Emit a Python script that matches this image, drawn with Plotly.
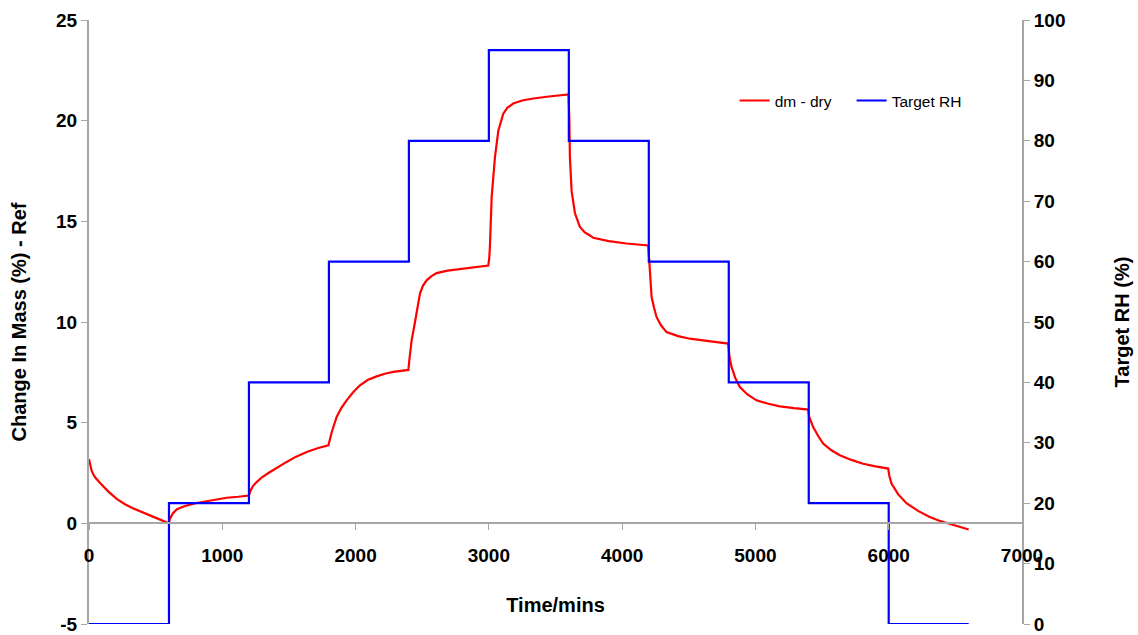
import plotly.graph_objects as go

# Change in mass (dm - dry)
mass_time = [0, 10, 20, 35, 50, 83, 150, 210, 270, 333, 400, 458, 530, 600,
             605, 615, 630, 660, 720, 808, 920, 1033, 1120, 1200,
             1210, 1230, 1258, 1300, 1358, 1420, 1483, 1550, 1633, 1720, 1796,
             1805, 1820, 1858, 1895, 1933, 1980, 2033, 2090, 2158, 2220, 2283, 2396,
             2405, 2421, 2446, 2465, 2483, 2505, 2533, 2570, 2608, 2690, 2783, 2880, 2996,
             3003, 3008, 3021, 3046, 3071, 3090, 3108, 3140, 3183, 3250, 3333, 3450, 3583, 3598,
             3604, 3608, 3621, 3646, 3683, 3720, 3758, 3783, 3900, 4033, 4196,
             4203, 4221, 4240, 4258, 4290, 4333, 4420, 4508, 4650, 4796,
             4805, 4821, 4850, 4883, 4940, 5008, 5090, 5183, 5290, 5396,
             5403, 5433, 5470, 5508, 5570, 5633, 5720, 5808, 5900, 5996,
             6005, 6021, 6070, 6133, 6220, 6308, 6380, 6458, 6530, 6600]
mass_change = [3.2, 2.85, 2.6, 2.4, 2.25, 2.0, 1.55, 1.2, 0.95, 0.74, 0.55, 0.38, 0.18, 0.0,
               0.2, 0.35, 0.5, 0.7, 0.86, 1.01, 1.15, 1.27, 1.32, 1.38,
               1.6, 1.85, 2.05, 2.3, 2.55, 2.82, 3.05, 3.3, 3.54, 3.74, 3.87,
               4.1, 4.5, 5.28, 5.75, 6.11, 6.5, 6.86, 7.12, 7.3, 7.43, 7.52, 7.62,
               8.2, 9.1, 10.0, 10.8, 11.41, 11.8, 12.07, 12.28, 12.43, 12.55, 12.62, 12.7, 12.8,
               13.2, 13.73, 16.2, 18.2, 19.5, 20.0, 20.35, 20.65, 20.85, 21.0, 21.1, 21.2, 21.26, 21.3,
               20.0, 18.2, 16.5, 15.4, 14.72, 14.45, 14.3, 14.18, 14.02, 13.9, 13.8,
               12.9, 11.24, 10.7, 10.25, 9.85, 9.5, 9.3, 9.17, 9.05, 8.93,
               8.3, 7.76, 7.2, 6.77, 6.4, 6.11, 5.95, 5.81, 5.72, 5.65,
               5.3, 4.78, 4.35, 3.96, 3.63, 3.38, 3.15, 2.96, 2.83, 2.72,
               2.35, 1.97, 1.45, 1.0, 0.62, 0.31, 0.13, -0.02, -0.17, -0.31]

# Target RH steps (value held from each time until the next)
rh_time = [0, 600, 1200, 1800, 2400, 3000, 3600, 4200, 4800, 5400, 6000, 6600]
rh_value = [0, 20, 40, 60, 80, 95, 80, 60, 40, 20, 0, 0]

x_ticks = [0, 1000, 2000, 3000, 4000, 5000, 6000, 7000]
y_ticks = [-5, 0, 5, 10, 15, 20, 25]
y_tick_text = ["-5", "0", "5", "10", "15", "20", "25"]
y2_ticks = [0, 10, 20, 30, 40, 50, 60, 70, 80, 90, 100]

FONT = "Arial, Liberation Sans, sans-serif"
GRAY = "#a6a6a6"

fig = go.Figure()
fig.add_trace(go.Scatter(x=mass_time, y=mass_change, mode="lines", name="dm - dry",
                         line=dict(color="#ff0000", width=2.2)))
fig.add_trace(go.Scatter(x=rh_time, y=rh_value, mode="lines", name="Target RH",
                         line=dict(color="#0000ff", width=2.2, shape="hv"), yaxis="y2"))

tickfont = dict(family=FONT, size=19, color="black", weight="bold")
titlefont = dict(family=FONT, size=20, color="black", weight="bold")

fig.update_layout(
    width=1138, height=635,
    margin=dict(l=89, r=116, t=20, b=11),
    paper_bgcolor="white", plot_bgcolor="white",
    font=dict(family=FONT),
    showlegend=True,
    legend=dict(orientation="h", x=0.692, y=0.866, yanchor="middle", xanchor="left",
                font=dict(family=FONT, size=15.5, color="black"),
                bgcolor="rgba(0,0,0,0)", itemwidth=30,
                entrywidth=72, entrywidthmode="pixels"),
    xaxis=dict(range=[0, 7000], tickvals=x_ticks, ticks="outside", ticklen=6,
               tickcolor=GRAY, showline=True, linecolor=GRAY, linewidth=2,
               showgrid=False, zeroline=False, anchor="free", position=1/6,
               ticklabelstandoff=9, tickfont=tickfont, automargin=False,
               title=dict(text="Time/mins", font=titlefont, standoff=32)),
    yaxis=dict(range=[-5, 25], tickvals=y_ticks, ticktext=y_tick_text, ticks="outside",
               ticklen=6, tickcolor=GRAY,
               showline=True, linecolor=GRAY, linewidth=2, showgrid=False, zeroline=False,
               tickfont=tickfont, automargin=False,
               title=dict(text="Change In Mass (%) - Ref", font=titlefont, standoff=24)),
    yaxis2=dict(range=[0, 100], tickvals=y2_ticks, ticks="outside", ticklen=6, tickcolor=GRAY,
                showline=True, linecolor=GRAY, linewidth=2, showgrid=False, zeroline=False,
                overlaying="y", side="right", anchor="x", tickfont=tickfont, automargin=False,
                title=dict(text="Target RH (%)", font=titlefont, standoff=50)),
)

fig.write_html("out.html")
